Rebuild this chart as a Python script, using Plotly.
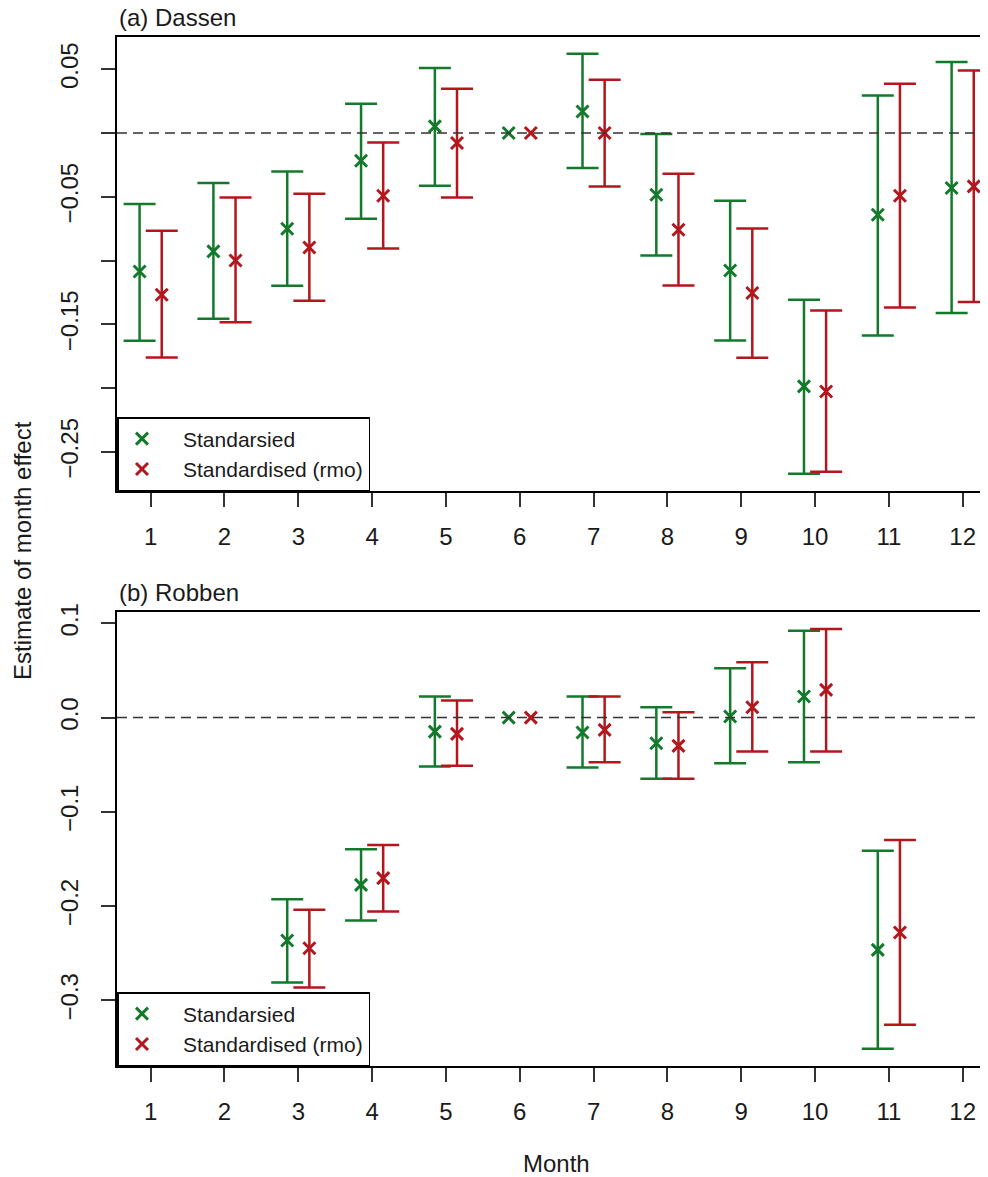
import numpy as np
import plotly.graph_objects as go

months = list(range(1, 13))
month_labels = [str(m) for m in months]

# (a) Dassen
dassen_std = [-0.1085, -0.0928, -0.0750, -0.0217, 0.0052, 0.0, 0.0169, -0.0484, -0.1077, -0.1986, -0.0640, -0.0431]
dassen_std_lo = [-0.1628, -0.1456, -0.1197, -0.0672, -0.0413, None, -0.0274, -0.0959, -0.1626, -0.2671, -0.1587, -0.1411]
dassen_std_hi = [-0.0557, -0.0392, -0.0301, 0.0230, 0.0510, None, 0.0622, -0.0008, -0.0531, -0.1307, 0.0295, 0.0557]
dassen_rmo = [-0.1268, -0.0999, -0.0897, -0.0491, -0.0078, 0.0, 0.0, -0.0758, -0.1254, -0.2026, -0.0491, -0.0418]
dassen_rmo_lo = [-0.1759, -0.1484, -0.1315, -0.0905, -0.0505, None, -0.0419, -0.1195, -0.1761, -0.2655, -0.1367, -0.1325]
dassen_rmo_hi = [-0.0766, -0.0505, -0.0476, -0.0074, 0.0347, None, 0.0418, -0.0319, -0.0748, -0.1391, 0.0386, 0.0491]

# (b) Robben
robben_std = [None, None, -0.2366, -0.1775, -0.0149, 0.0, -0.0159, -0.0272, 0.0011, 0.0223, -0.2465, None]
robben_std_lo = [None, None, -0.2812, -0.2154, -0.0520, None, -0.0531, -0.0650, -0.0484, -0.0473, -0.3515, None]
robben_std_hi = [None, None, -0.1927, -0.1396, 0.0223, None, 0.0223, 0.0110, 0.0524, 0.0920, -0.1414, None]
robben_rmo = [None, None, -0.2447, -0.1704, -0.0173, 0.0, -0.0131, -0.0300, 0.0110, 0.0294, -0.2281, None]
robben_rmo_lo = [None, None, -0.2865, -0.2058, -0.0512, None, -0.0473, -0.0650, -0.0361, -0.0361, -0.3260, None]
robben_rmo_hi = [None, None, -0.2040, -0.1351, 0.0180, None, 0.0223, 0.0057, 0.0588, 0.0941, -0.1298, None]

series_names = ["Standarsied", "Standardised (rmo)"]
top_yticks = [0.05, 0.0, -0.05, -0.10, -0.15, -0.20, -0.25]
top_yticktext = ["0.05", "", "\u22120.05", "", "\u22120.15", "", "\u22120.25"]
bot_yticks = [0.1, 0.0, -0.1, -0.2, -0.3]
bot_yticktext = ["0.1", "0.0", "\u22120.1", "\u22120.2", "\u22120.3"]

GREEN = "#137a2c"
RED = "#b3161d"
OFFSET = 0.15
FONT = "Liberation Sans, Arial, sans-serif"
TXT = "#1a1a1a"
PAD = "\u00a0\u00a0\u00a0"

fig = go.Figure()


def add_series(est, lo, hi, color, name, dx, xa, ya, legend):
    e = np.array(est, dtype=float)
    l = np.array(lo, dtype=float)
    h = np.array(hi, dtype=float)
    x = np.array(months, dtype=float) + dx
    fig.add_trace(go.Scatter(
        x=x, y=e, mode="markers", name=PAD + name,
        xaxis=xa, yaxis=ya, legend=legend,
        marker=dict(symbol="x-thin", size=12, color=color,
                    line=dict(color=color, width=3)),
        error_y=dict(type="data", symmetric=False, array=h - e, arrayminus=e - l,
                     color=color, thickness=2.5, width=16),
    ))


add_series(dassen_std, dassen_std_lo, dassen_std_hi, GREEN, series_names[0], -OFFSET, "x", "y", "legend")
add_series(dassen_rmo, dassen_rmo_lo, dassen_rmo_hi, RED, series_names[1], OFFSET, "x", "y", "legend")
add_series(robben_std, robben_std_lo, robben_std_hi, GREEN, series_names[0], -OFFSET, "x2", "y2", "legend2")
add_series(robben_rmo, robben_rmo_lo, robben_rmo_hi, RED, series_names[1], OFFSET, "x2", "y2", "legend2")

# page body has an 8px margin; work in reference pixels and shift
SH = 8
W, H = 988 - SH, 1177 - SH
LEFT, TOP, BOTTOM = 117, 37, 1066  # reference pixel positions of the plot area
ML, MT, MB = LEFT - SH, TOP - SH, 1177 - BOTTOM
PH = H - MT - MB
PW = W - ML


def py(ref_y):
    return (BOTTOM - ref_y) / PH


def px(ref_x):
    return (ref_x - LEFT) / PW


top_dom = [py(491), 1.0]
bot_dom = [0.0, py(612.3)]

xcommon = dict(range=[0.544, 0.544 + PW / 73.82], tickmode="array", tickvals=months, ticktext=month_labels,
               showline=True, mirror=True, linecolor="black", linewidth=1.5,
               ticks="outside", ticklen=14, tickwidth=1.5, tickcolor="#333",
               showgrid=False, zeroline=False, ticklabelstandoff=9,
               tickfont=dict(size=24, color=TXT, family=FONT))
ycommon = dict(showline=True, mirror=False, linecolor="black", linewidth=1.5,
               ticks="outside", ticklen=14, tickwidth=1.5, tickcolor="#333",
               showgrid=False, zeroline=False, tickangle=-90, ticklabelstandoff=14,
               tickfont=dict(size=24, color=TXT, family=FONT), tickmode="array")

legcommon = dict(x=0, xanchor="left", yanchor="bottom", bgcolor="white",
                 bordercolor="black", borderwidth=1.5, itemwidth=37,
                 font=dict(size=21, color=TXT, family=FONT), tracegroupgap=0)

fig.update_layout(
    width=W, height=H,
    margin=dict(l=ML, r=0, t=MT, b=MB),
    paper_bgcolor="white", plot_bgcolor="white",
    font=dict(family=FONT, color=TXT),
    xaxis=dict(domain=[0, 1], anchor="y", **xcommon),
    yaxis=dict(domain=top_dom, anchor="x", range=[-0.2806, 0.0753],
               tickvals=top_yticks, ticktext=top_yticktext, **ycommon),
    xaxis2=dict(domain=[0, 1], anchor="y2", **xcommon),
    yaxis2=dict(domain=bot_dom, anchor="x2", range=[-0.3697, 0.1117],
                tickvals=bot_yticks, ticktext=bot_yticktext, **ycommon),
    legend=dict(y=top_dom[0], **legcommon),
    legend2=dict(y=bot_dom[0], **legcommon),
    shapes=[
        dict(type="line", xref="x domain", yref="y", x0=0, x1=1, y0=0, y1=0,
             line=dict(color="#333", width=1.5, dash="10px,6px")),
        dict(type="line", xref="x2 domain", yref="y2", x0=0, x1=1, y0=0, y1=0,
             line=dict(color="#333", width=1.5, dash="10px,6px")),
    ],
    annotations=[
        dict(text="(a) Dassen", xref="paper", yref="paper", x=0, y=py(17),
             xanchor="left", yanchor="middle", showarrow=False,
             font=dict(size=24, color=TXT, family=FONT)),
        dict(text="(b) Robben", xref="paper", yref="paper", x=0, y=py(592.7),
             xanchor="left", yanchor="middle", showarrow=False,
             font=dict(size=24, color=TXT, family=FONT)),
        dict(text="Month", xref="paper", yref="paper", x=px(556.7),
             y=py(1163), xanchor="center", yanchor="middle", showarrow=False,
             font=dict(size=24, color=TXT, family=FONT)),
        dict(text="Estimate of month effect", xref="paper", yref="paper",
             x=px(22), y=py(551), textangle=-90,
             xanchor="center", yanchor="middle", showarrow=False,
             font=dict(size=24, color=TXT, family=FONT)),
    ],
)

fig.write_html("out.html")
